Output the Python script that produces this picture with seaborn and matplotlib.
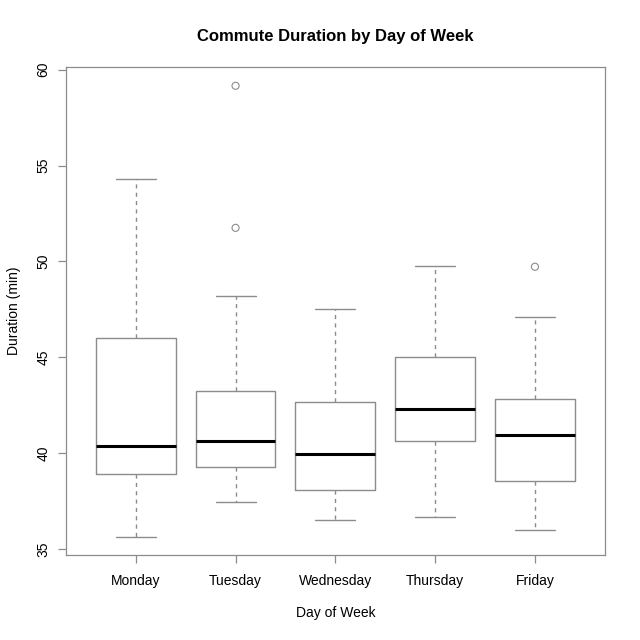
import pandas as pd
import matplotlib
matplotlib.use("Agg")
import matplotlib.pyplot as plt
import seaborn as sns

# box statistics
days = ["Monday", "Tuesday", "Wednesday", "Thursday", "Friday"]
whisker_low = [35.63, 37.45, 36.51, 36.67, 36.00]
q1 = [38.90, 39.28, 38.08, 40.64, 38.55]
median = [40.38, 40.64, 39.96, 42.31, 40.95]
q3 = [46.02, 43.25, 42.67, 45.02, 42.83]
whisker_high = [54.28, 48.22, 47.53, 49.77, 47.11]
outlier_days = ["Tuesday", "Tuesday", "Friday"]
outlier_values = [59.16, 51.75, 49.72]

GRAY = "#8c8c8c"

# five points per day give exactly those quartiles (linear percentiles)
rows = []
for i, d in enumerate(days):
    for v in (whisker_low[i], q1[i], median[i], q3[i], whisker_high[i]):
        rows.append({"day": d, "duration": v})
df = pd.DataFrame(rows)
df_out = pd.DataFrame({"day": outlier_days, "duration": outlier_values})

sns.set_style("white")
plt.rcParams["font.family"] = ["Liberation Sans", "DejaVu Sans"]
plt.rcParams["text.color"] = "black"
plt.rcParams["axes.labelcolor"] = "black"
plt.rcParams["xtick.labelcolor"] = "black"
plt.rcParams["ytick.labelcolor"] = "black"

fig = plt.figure(figsize=(6.4, 6.4), dpi=100)
ax = fig.add_axes([0.103, 0.133, 0.842, 0.762])

sns.boxplot(
    data=df, x="day", y="duration", order=days, ax=ax,
    whis=(0, 100), width=0.8, fill=False, showfliers=False,
    color=GRAY, linecolor=GRAY, linewidth=1.0,
    boxprops={"color": GRAY},
    whiskerprops={"linestyle": (0, (3, 3)), "color": GRAY},
    capprops={"color": GRAY},
    medianprops={"color": "black", "linewidth": 2.2},
    capwidths=0.4,
)
sns.scatterplot(
    data=df_out, x="day", y="duration", ax=ax,
    marker="o", s=26, facecolor="none", edgecolor=GRAY, linewidth=0.8,
)

ax.set_xlim(-0.7, 4.7)
ax.set_ylim(34.69, 60.13)
ax.set_yticks([35, 40, 45, 50, 55, 60])
ax.set_yticklabels(["35", "40", "45", "50", "55", "60"], rotation=90, va="center")
for s in ax.spines.values():
    s.set_color(GRAY)
    s.set_linewidth(0.9)
ax.tick_params(axis="both", direction="out", length=6, width=0.9, color=GRAY,
               labelsize=10, left=True, bottom=True, labelcolor="black")
ax.tick_params(axis="x", pad=8)
ax.tick_params(axis="y", pad=5)
ax.set_title("Commute Duration by Day of Week", fontsize=12, fontweight="bold",
             pad=19, color="black")
ax.set_xlabel("Day of Week", fontsize=10, labelpad=13)
ax.set_ylabel("Duration (min)", fontsize=10, labelpad=11)

fig.savefig("out.png", dpi=100)
